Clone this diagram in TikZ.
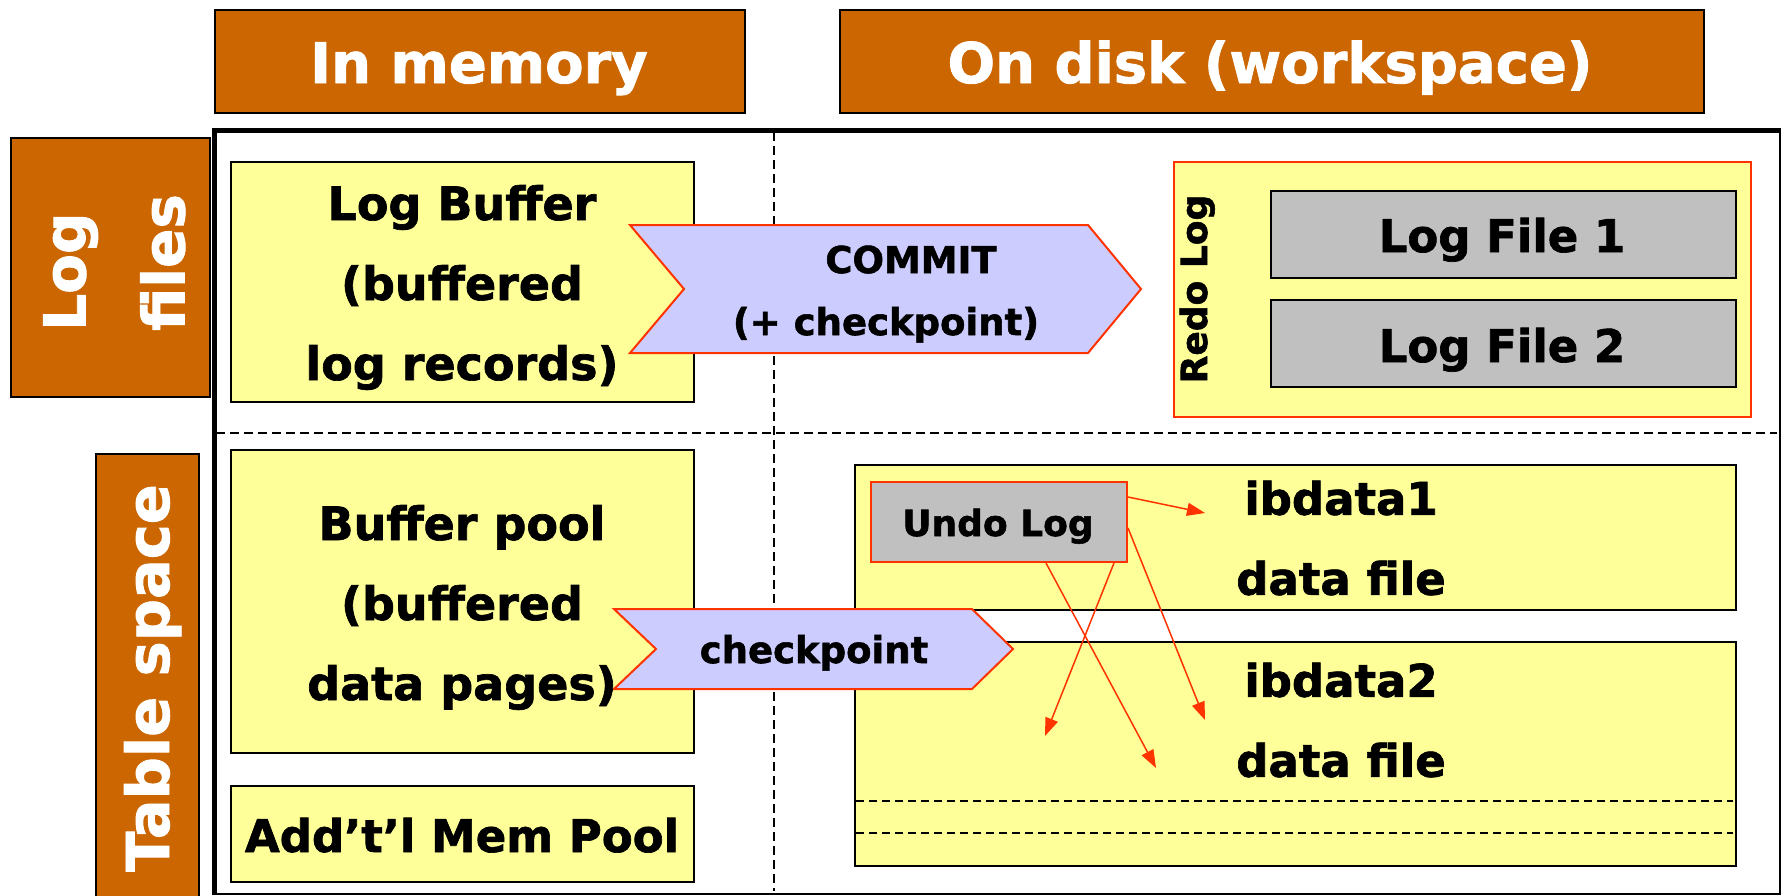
\documentclass[tikz,border=0pt]{standalone}
\usepackage{fontspec}
\setmainfont{DejaVu Sans}[BoldFeatures={FakeBold=1.5}]
\usetikzlibrary{arrows.meta}
\definecolor{hdr}{HTML}{CC6600}
\definecolor{ylw}{HTML}{FFFF99}
\definecolor{lav}{HTML}{CCCCFF}
\definecolor{gry}{HTML}{C0C0C0}
\definecolor{redc}{HTML}{FF3300}
\begin{document}
\begin{tikzpicture}[x=1pt,y=-1pt,
  hbox/.style={draw=black, line width=2pt, fill=hdr, inner sep=0pt, anchor=north west},
  ybox/.style={draw=black, line width=2pt, fill=ylw, inner sep=0pt, anchor=north west},
  rbox/.style={draw=redc, line width=2pt, fill=ylw, inner sep=0pt, anchor=north west},
  gbox/.style={draw=black, line width=2pt, fill=gry, inner sep=0pt, anchor=north west},
  ugbox/.style={draw=redc, line width=2pt, fill=gry, inner sep=0pt, anchor=north west},
  txt/.style={inner sep=0pt, text=black},
  wtxt/.style={inner sep=0pt, text=white},
  chev/.style={draw=redc, line width=2pt, fill=lav, line join=miter},
  sep/.style={line width=1.5pt, dash pattern=on 9pt off 5pt},
  sepin/.style={line width=1.5pt, dash pattern=on 8pt off 5pt},
  redarrow/.style={draw=redc, line width=1.5pt, -{Triangle[length=18pt,width=13pt]}}
]
\useasboundingbox (0,0) rectangle (1782,895);

% headers
\node[hbox, minimum width=530pt, minimum height=103pt] (hmem) at (214,9) {};
\node[wtxt, anchor=base, font=\bfseries\fontsize{56}{60}\selectfont] (hmemt) at (479,83) {In memory};
\node[hbox, minimum width=864pt, minimum height=103pt] (hdisk) at (839,9) {};
\node[wtxt, anchor=base, font=\bfseries\fontsize{56}{60}\selectfont] (hdiskt) at (1270,83) {On disk (workspace)};

% side headers
\node[hbox, minimum width=199pt, minimum height=259pt] (slog) at (10,137) {};
\node[wtxt, rotate=90, anchor=north west, align=left, font=\bfseries\fontsize{58}{99}\selectfont] (slogt) at (43,331) {Log\\files};
\node[hbox, minimum width=103pt, minimum height=460pt] (stab) at (95,453) {};
\node[wtxt, rotate=90, anchor=base, font=\bfseries\fontsize{59}{64}\selectfont] (stabt) at (169,678) {Table space};

% frame
\node[draw=black, line width=2pt, inner sep=0pt, anchor=north west, minimum width=1565pt, minimum height=763pt] (frame) at (214,130) {};
\draw[line width=5pt] (frame.south west) -- (frame.north west) -- (frame.north east);
\draw[sep] (774,132) -- (774,891);
\draw[sep] (216,433) -- (1777,433);

% memory boxes
\node[ybox, minimum width=463pt, minimum height=240pt] (logbuf) at (230,161) {};
\node[ybox, minimum width=463pt, minimum height=303pt] (bufpool) at (230,449) {};
\node[ybox, minimum width=463pt, minimum height=96pt] (addmem) at (230,785) {};

% disk boxes
\node[rbox, minimum width=577pt, minimum height=255pt] (redo) at (1173,161) {};
\node[gbox, minimum width=465pt, minimum height=87pt] (lf1) at (1270,190) {};
\node[gbox, minimum width=465pt, minimum height=87pt] (lf2) at (1270,299) {};
\node[ybox, minimum width=881pt, minimum height=145pt] (ib1) at (854,464) {};
\node[ybox, minimum width=881pt, minimum height=224pt] (ib2) at (854,641) {};
\draw[sepin] (856,801) -- (1733,801);
\draw[sepin] (856,833) -- (1733,833);

% chevrons
\draw[chev] (630,225) -- (1088,225) -- (1141,289) -- (1088,353) -- (630,353) -- (684,289) -- cycle;
\draw[chev] (614,609) -- (972,609) -- (1013,649) -- (972,689) -- (614,689) -- (656,649) -- cycle;

% undo log
\node[ugbox, minimum width=256pt, minimum height=80pt] (undo) at (870,481) {};
\coordinate (u1) at (1205,513);
\coordinate (u2) at (1205,720);
\coordinate (u3) at (1156,768);
\coordinate (u4) at (1045,736);
\draw[redarrow] ([yshift=-16pt]undo.north east) -- (u1);
\draw[redarrow] ([yshift=-47pt]undo.north east) -- (u2);
\draw[redarrow] ([xshift=176pt]undo.south west) -- (u3);
\draw[redarrow] ([xshift=-14pt]undo.south east) -- (u4);

% texts
\node[txt, align=center, font=\bfseries\fontsize{46}{80}\selectfont] (logbuft) at (462,287.5) {Log Buffer\\(buffered\\log records)};
\node[txt, align=center, font=\bfseries\fontsize{46}{80}\selectfont] (bufpoolt) at (462,607.5) {Buffer pool\\(buffered\\data pages)};
\node[txt, anchor=base, font=\bfseries\fontsize{45}{50}\selectfont] (addmemt) at (462,852) {Add’t’l Mem Pool};
\node[txt, anchor=base, font=\bfseries\fontsize{37}{44}\selectfont] (committ) at (911,273) {COMMIT};
\node[txt, anchor=base, font=\bfseries\fontsize{37}{44}\selectfont] (committ2) at (886,335) {(+ checkpoint)};
\node[txt, anchor=base, font=\bfseries\fontsize{37}{44}\selectfont] (ckpt) at (814,663) {checkpoint};
\node[txt, rotate=90, anchor=base, font=\bfseries\fontsize{36}{40}\selectfont] (redot) at (1207,289) {Redo Log};
\node[txt, anchor=base, font=\bfseries\fontsize{45}{50}\selectfont] (lf1t) at (1502,252) {Log File 1};
\node[txt, anchor=base, font=\bfseries\fontsize{45}{50}\selectfont] (lf2t) at (1502,362) {Log File 2};
\node[txt, align=center, font=\bfseries\fontsize{45}{80}\selectfont] (ib1t) at (1341,538) {ibdata1\\data file};
\node[txt, align=center, font=\bfseries\fontsize{45}{80}\selectfont] (ib2t) at (1341,720) {ibdata2\\data file};
\node[txt, anchor=base, font=\bfseries\fontsize{36}{40}\selectfont] (undot) at (998,536) {Undo Log};
\end{tikzpicture}
\end{document}
